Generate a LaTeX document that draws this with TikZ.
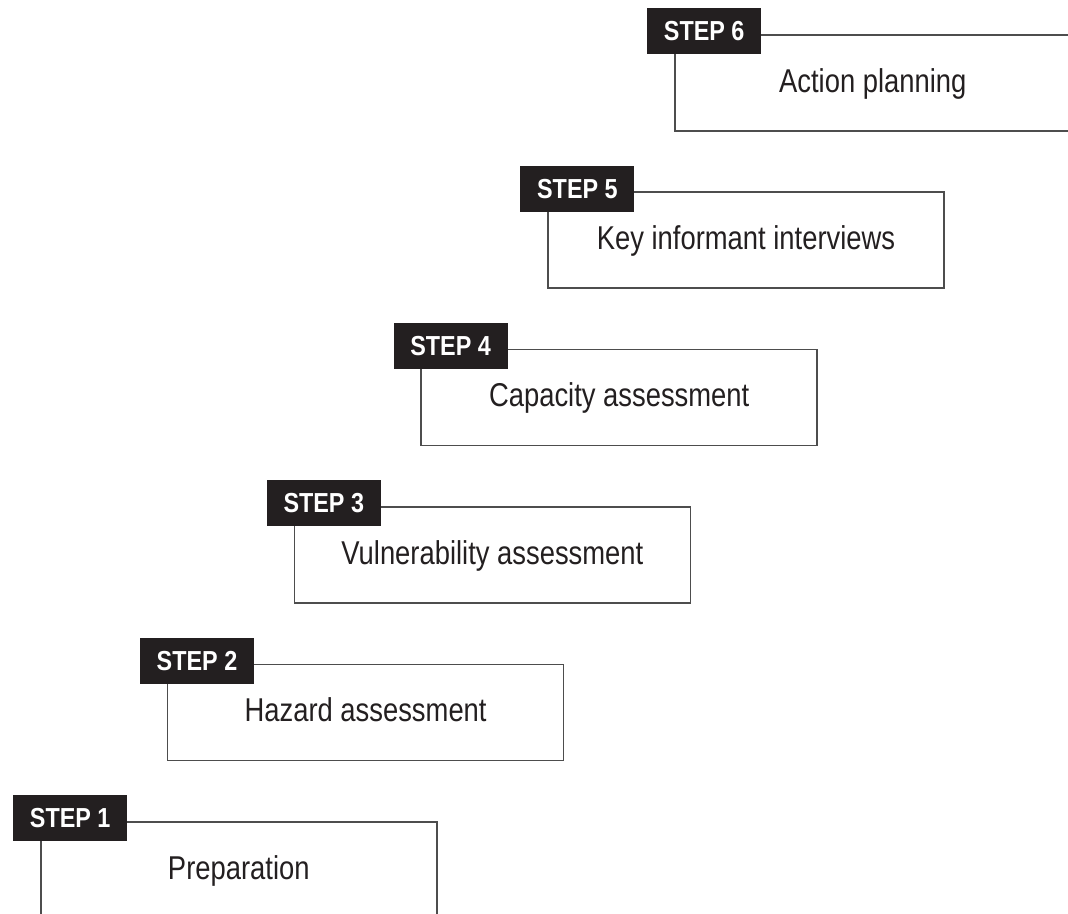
\documentclass[tikz,border=0pt]{standalone}
\usepackage{fontspec}
\setmainfont[FakeStretch=0.83]{Liberation Sans}
\newfontfamily\tabfont[FakeStretch=0.85]{Liberation Sans}
\usepackage{tikz}
\usetikzlibrary{calc, positioning}
\definecolor{tabblack}{HTML}{231F20}
\definecolor{rulegray}{HTML}{4D4D4D}
\tikzstyle{stepbox}=[draw=rulegray, line width=1.6pt, shape=rectangle, inner sep=0pt, minimum width=396pt, minimum height=96pt, anchor=north west]
\tikzstyle{steptab}=[fill=tabblack, text=white, shape=rectangle, inner sep=0pt, minimum width=114pt, minimum height=46pt, anchor=north west, font=\tabfont\bfseries\fontsize{27.5}{30}\selectfont]
\tikzstyle{steptext}=[inner sep=0pt, anchor=base, text=tabblack, font=\fontsize{33}{38}\selectfont]

\begin{document}
\begin{tikzpicture}[x=1pt, y=-1pt]
\useasboundingbox (0,0) rectangle (1068,913);
% boxes first, tabs on top of them
\node[stepbox] (B1) at (40,821) {};
\node[stepbox] (B2) at (166.8,663.6) {};
\node[stepbox] (B3) at (293.6,506.2) {};
\node[stepbox] (B4) at (420.4,348.8) {};
\node[stepbox] (B5) at (547.2,191.4) {};
\node[stepbox] (B6) at (674,34) {};

\node[steptab] (S1) at (13,795) {STEP 1};
\node[steptab] (S2) at (139.8,637.6) {STEP 2};
\node[steptab] (S3) at (266.6,480.2) {STEP 3};
\node[steptab] (S4) at (393.4,322.8) {STEP 4};
\node[steptab] (S5) at (520.2,165.4) {STEP 5};
\node[steptab] (S6) at (647,8) {STEP 6};

\node[steptext] (T1) at ($(B1.north)+(0,58)$) {Preparation};
\node[steptext] (T2) at ($(B2.north)+(0,58)$) {Hazard assessment};
\node[steptext] (T3) at ($(B3.north)+(0,58)$) {Vulnerability assessment};
\node[steptext] (T4) at ($(B4.north)+(0,58)$) {Capacity assessment};
\node[steptext] (T5) at ($(B5.north)+(0,58)$) {Key informant interviews};
\node[steptext] (T6) at ($(B6.north)+(0,58)$) {Action planning};
\end{tikzpicture}
\end{document}
